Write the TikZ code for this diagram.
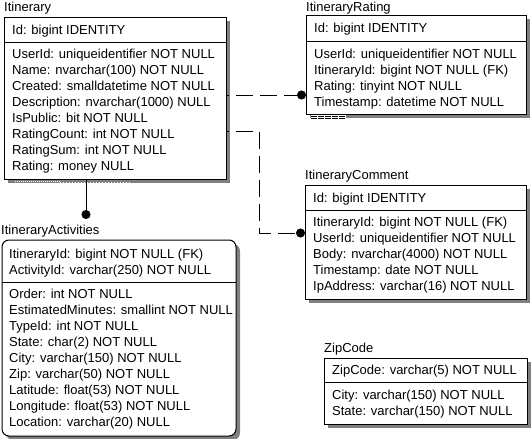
\documentclass[tikz,border=0pt]{standalone}
\usepackage{fontspec}
\setmainfont{Liberation Sans}
\usetikzlibrary{shadows,arrows.meta}
\definecolor{shadowgray}{RGB}{128,128,128}
\begin{document}
\begin{tikzpicture}[x=1pt,y=-1pt,
  ent/.style={draw, line width=1pt, fill=white, inner sep=0pt, outer sep=0pt,
    anchor=north west,
    drop shadow={shadow xshift=4pt, shadow yshift=-4pt, fill=shadowgray, opacity=1}},
  txt/.style={font=\fontsize{13}{16}\selectfont, inner sep=0pt, anchor=base west},
  divider/.style={line width=1pt},
  rel/.style={line width=1pt, dash pattern=on 17pt off 7pt, dash phase=14pt,
    -{Circle[length=9pt,width=9pt]}},
  relsolid/.style={line width=1pt, -{Circle[length=9pt,width=9pt]}}
]
\useasboundingbox (0,0) rectangle (531,439);

% ---------------- Itinerary ----------------
\node[txt] (itin-l) at (4,11.5) {Itinerary};
\node[ent, minimum width=222pt, minimum height=162pt] (itin) at (4,17) {};
\draw[divider] ([yshift=-25pt]itin.north west) -- ([yshift=-25pt]itin.north east);
\node[txt] (itin-h) at (12,34.5) {Id: bigint IDENTITY};
\foreach \t [count=\i from 0] in {UserId: uniqueidentifier NOT NULL,
  Name: nvarchar(100) NOT NULL, Created: smalldatetime NOT NULL,
  Description: nvarchar(1000) NULL, IsPublic: bit NOT NULL,
  RatingCount: int NOT NULL, RatingSum: int NOT NULL, Rating: money NULL}
  \node[txt] (itin-r\i) at (12,{58.5+16*\i}) {\t};

% ---------------- ItineraryRating ----------------
\node[txt] (rat-l) at (306,11) {ItineraryRating};
\node[ent, minimum width=220pt, minimum height=99pt] (rat) at (306,15) {};
\draw[divider] ([yshift=-26pt]rat.north west) -- ([yshift=-26pt]rat.north east);
\node[txt] (rat-h) at (314,32.5) {Id: bigint IDENTITY};
\foreach \t [count=\i from 0] in {UserId: uniqueidentifier NOT NULL,
  ItineraryId: bigint NOT NULL (FK), Rating: tinyint NOT NULL,
  Timestamp: datetime NOT NULL}
  \node[txt] (rat-r\i) at (314,{58.5+16*\i}) {\t};

% ---------------- ItineraryComment ----------------
\node[txt] (com-l) at (305,179.5) {ItineraryComment};
\node[ent, minimum width=221pt, minimum height=114pt] (com) at (305,185) {};
\draw[divider] ([yshift=-25pt]com.north west) -- ([yshift=-25pt]com.north east);
\node[txt] (com-h) at (313,202) {Id: bigint IDENTITY};
\foreach \t [count=\i from 0] in {ItineraryId: bigint NOT NULL (FK),
  UserId: uniqueidentifier NOT NULL, Body: nvarchar(4000) NOT NULL,
  Timestamp: date NOT NULL, IpAddress: varchar(16) NOT NULL}
  \node[txt] (com-r\i) at (313,{226.5+16*\i}) {\t};

% ---------------- ZipCode ----------------
\node[txt] (zip-l) at (324,352.5) {ZipCode};
\node[ent, minimum width=203pt, minimum height=66pt] (zip) at (324,358) {};
\draw[divider] ([yshift=-24pt]zip.north west) -- ([yshift=-24pt]zip.north east);
\node[txt] (zip-h) at (332,374.5) {ZipCode: varchar(5) NOT NULL};
\foreach \t [count=\i from 0] in {City: varchar(150) NOT NULL,
  State: varchar(150) NOT NULL}
  \node[txt] (zip-r\i) at (332,{399.5+16*\i}) {\t};

% ---------------- ItineraryActivities ----------------
\node[txt] (act-l) at (1,234.5) {ItineraryActivities};
\node[ent, rounded corners=7pt, minimum width=234pt, minimum height=196pt] (act) at (2,240) {};
\draw[divider] ([yshift=-42pt]act.north west) -- ([yshift=-42pt]act.north east);
\foreach \t [count=\i from 0] in {ItineraryId: bigint NOT NULL (FK),
  ActivityId: varchar(250) NOT NULL}
  \node[txt] (act-k\i) at (9,{258.5+16*\i}) {\t};
\foreach \t [count=\i from 0] in {Order: int NOT NULL,
  EstimatedMinutes: smallint NOT NULL, TypeId: int NOT NULL,
  State: char(2) NOT NULL, City: varchar(150) NOT NULL,
  Zip: varchar(50) NOT NULL, Latitude: float(53) NOT NULL,
  Longitude: float(53) NOT NULL, Location: varchar(20) NULL}
  \node[txt] (act-r\i) at (9,{298.5+16*\i}) {\t};

% ---------------- shadow artefacts ----------------
\draw[white, line width=1pt, dash pattern=on 1pt off 1pt] (15,181.5) -- (60,181.5);
\draw[white, line width=1pt, dash pattern=on 1pt off 2pt] (60,182) -- (130,182);
\fill[white] (311,114.6) rectangle (346,118.5);
\draw[line width=0.6pt, dash pattern=on 6pt off 1pt] (311,116) -- (346,116);
\draw[line width=0.6pt, dash pattern=on 6pt off 1pt] (311,118) -- (346,118);

% ---------------- relationships ----------------
\coordinate (y95) at (0,95);
\coordinate (y131) at (0,131);
\coordinate (bend) at (259.5,131);
\coordinate (y233) at (0,233);
\coordinate (actdot) at (86,219);
\draw[rel] (itin.east |- y95) -- (rat.west |- y95);
\draw[rel] (itin.east |- y131) -- (bend) -- (bend |- y233) -- (com.west |- y233);
\draw[relsolid] (itin.south -| actdot) -- (actdot);
\end{tikzpicture}
\end{document}
